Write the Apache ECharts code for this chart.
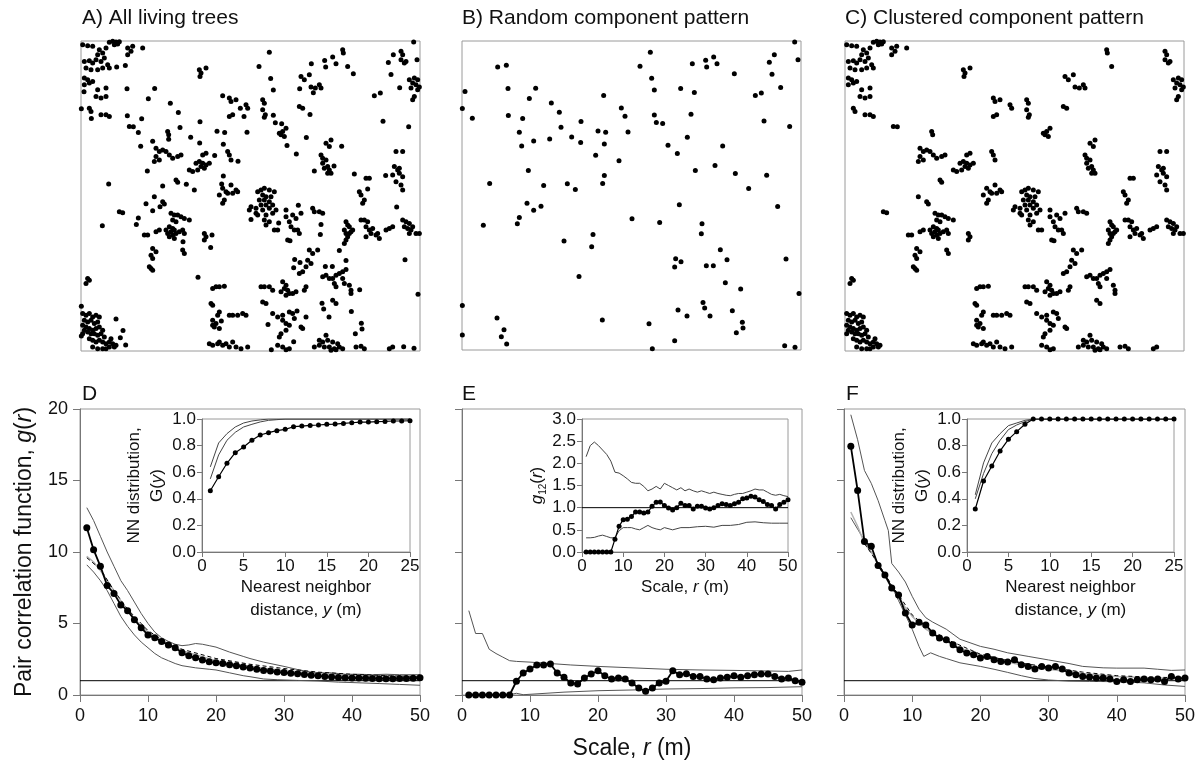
<!DOCTYPE html>
<html>
<head>
<meta charset="utf-8">
</head>
<body style="margin:0;background:#fff">
<div id="container" style="width:1200px;height:762px"></div>
<script type="text/javascript" src="https://cdn.jsdelivr.net/npm/echarts@6/dist/echarts.min.js"></script>
<script type="text/javascript">
var dom = document.getElementById("container");
var myChart = echarts.init(dom);

// stem maps, metres (x 0-101.7, y 0-92.8)
var randomPts = [
[99.8,92.5],[56.5,89.4],[10.7,85.0],[13.3,85.5],[53.4,85.2],[69.1,86.0],[73.1,87.0],[75.5,88.0],[76.5,86.0],[73.4,85.0],
[93.7,88.7],[92.2,86.4],[100.8,87.2],[81.7,83.0],[93.0,82.8],[56.9,81.6],[0.9,77.6],[13.8,78.5],[22.1,78.6],[20.2,75.5],
[42.5,76.4],[57.7,78.1],[65.6,78.5],[69.7,77.3],[95.6,78.8],[88.0,76.4],[89.8,77.2],[0.1,72.5],[3.1,69.6],[13.9,70.4],
[18.2,69.5],[26.8,74.2],[29.2,71.4],[47.8,72.7],[48.9,70.2],[57.7,70.6],[58.3,68.3],[60.2,68.0],[68.7,70.8],[90.6,68.8],
[98.3,67.1],[17.2,65.4],[21.5,62.8],[17.9,61.3],[26.3,63.4],[29.7,66.9],[32.9,64.0],[35.7,68.6],[35.6,62.3],[40.8,65.8],
[43.1,65.4],[42.7,61.9],[40.1,58.5],[49.8,65.5],[47.1,56.8],[61.8,61.5],[64.6,59.0],[67.6,63.9],[78.2,61.3],[75.9,55.4],
[70.0,53.9],[82.0,53.0],[91.4,52.5],[86.0,48.5],[94.7,43.1],[8.3,50.0],[19.9,53.9],[24.5,49.4],[31.6,49.9],[34.0,48.2],
[42.2,50.0],[42.7,52.4],[19.5,44.1],[21.5,42.0],[23.7,43.2],[17.2,39.8],[16.6,37.9],[6.4,37.5],[51.0,39.4],[59.3,38.3],
[65.2,43.6],[72.0,37.9],[71.8,34.9],[30.6,32.7],[39.3,34.7],[38.9,31.0],[77.5,30.1],[79.5,27.1],[64.1,27.4],[65.7,26.5],
[63.8,24.9],[73.3,25.3],[75.4,25.3],[97.2,27.3],[35.1,22.1],[79.0,20.2],[83.6,18.3],[101.1,17.0],[0.1,13.4],[72.3,14.3],
[72.8,12.6],[64.8,12.0],[67.5,10.2],[74.4,10.2],[81.1,11.8],[84.1,8.3],[84.3,6.6],[82.3,5.2],[10.5,9.6],[12.6,6.1],
[11.8,4.0],[13.4,1.8],[0.1,4.5],[42.1,9.0],[56.1,7.9],[63.8,2.8],[57.1,0.4],[96.8,1.3],[99.9,0.8]
];

var clusteredPts = [
[8.5,92.4],[9.5,92.7],[10.5,92.5],[11.5,92.6],[10.0,91.7],[11.0,91.9],[0.5,91.7],[2.0,91.4],[3.5,91.2],[5.5,90.2],
[6.5,89.2],[5.0,88.7],[7.5,90.7],[7.0,87.7],[6.0,86.7],[4.5,87.2],[8.0,85.7],[8.5,84.7],[1.0,86.7],[2.5,86.9],
[3.5,86.2],[1.5,84.7],[3.0,84.2],[5.0,84.2],[6.5,84.7],[1.0,81.7],[2.0,81.2],[2.5,80.2],[1.0,79.7],[3.5,80.7],
[5.0,78.2],[7.5,78.7],[4.5,76.2],[6.0,75.7],[7.5,76.2],[2.5,72.7],[3.0,71.7],[6.0,70.7],[7.5,70.7],[8.5,70.2],
[14.0,90.7],[15.5,91.2],[15.0,89.7],[14.0,88.7],[18.5,90.7],[14.5,67.2],[15.7,67.1],
[35.5,84.2],[36.0,83.2],[35.7,82.2],[37.5,84.7],[44.5,75.7],[45.0,74.7],[46.5,75.2],[49.5,73.7],[50.0,72.7],[44.5,70.2],
[45.5,70.7],[54.5,75.2],[55.0,74.2],[54.5,72.2],[55.3,70.7],[55.0,70.0],[66.0,82.2],[67.0,81.2],[68.5,82.7],[69.0,79.0],
[70.3,78.7],[71.5,79.7],[72.0,78.7],[65.5,73.2],[66.5,72.7],[78.5,90.2],[78.7,89.2],[80.0,85.2],[96.0,89.7],[96.5,88.7],
[96.0,87.2],[97.0,86.2],[97.5,86.7],[98.5,81.2],[100.0,81.7],[101.0,81.2],[99.5,80.2],[100.5,79.7],[101.5,79.0],[99.0,78.7],
[101.0,78.2],[100.0,76.2],[99.5,75.2],[61.5,66.7],[60.5,65.7],[60.0,64.7],[61.0,64.2],[59.5,65.2],[26.0,65.7],[26.3,64.7],
[22.5,60.7],[23.5,59.7],[24.5,60.2],[25.5,59.7],[22.5,58.2],[23.5,57.2],[22.0,56.7],[26.5,58.7],[27.5,57.7],[29.0,58.2],
[30.0,58.7],[36.5,58.7],[37.5,59.2],[34.5,56.2],[35.5,56.7],[36.5,56.2],[37.5,55.7],[36.0,55.2],[37.0,54.7],[35.0,54.2],
[33.5,53.7],[32.5,54.2],[38.5,56.2],[28.5,51.2],[29.0,50.5],[44.0,59.7],[44.5,58.7],[45.0,57.2],[72.0,58.7],[72.5,57.7],
[73.5,57.2],[72.5,56.2],[74.0,55.2],[74.5,54.2],[73.0,54.7],[74.0,53.2],[75.0,53.2],[74.5,61.2],[75.0,63.2],[73.5,62.2],
[94.5,59.7],[96.5,59.7],[94.0,55.2],[95.0,54.2],[95.5,53.2],[96.5,52.2],[94.5,50.7],[96.0,49.7],[96.5,48.2],[93.5,52.7],
[95.5,54.7],[85.5,51.7],[86.5,51.7],[83.5,47.7],[84.0,46.7],[85.0,45.2],[84.5,44.2],[22.0,46.2],[24.5,44.7],[25.0,44.0],
[11.5,41.7],[12.5,41.4],[45.0,49.7],[46.5,48.2],[47.0,47.7],[42.5,48.7],[43.5,47.7],[41.5,46.7],[43.0,45.2],[42.5,44.2],
[44.0,47.2],[45.5,47.2],
[53.0,47.7],[54.0,48.2],[55.0,48.7],[56.5,48.2],[58.0,47.7],[54.5,46.7],[55.5,46.2],[57.0,46.2],[53.5,45.2],[55.0,45.2],
[56.5,44.7],[54.0,43.7],[55.5,43.7],[57.5,43.7],[52.5,42.7],[54.5,42.2],[56.5,42.7],[58.5,42.2],[51.0,43.2],[50.5,42.2],
[52.5,41.2],[55.5,40.7],[57.5,41.2],[55.0,39.2],[56.5,38.7],[55.5,37.7],[58.0,36.2],[59.0,36.2],[61.5,42.2],[53.0,40.7],
[61.5,40.2],[63.5,40.7],[64.5,39.7],[66.0,41.2],[69.5,42.7],[70.0,41.7],[71.5,41.7],[72.5,41.2],[62.5,38.7],[63.0,37.2],
[64.0,36.2],[65.0,36.2],[65.5,35.2],[62.0,33.2],[62.7,33.0],
[27.0,41.2],[28.0,40.7],[29.0,40.7],[30.0,40.2],[31.0,39.7],[32.5,39.2],[27.5,39.2],[28.5,38.7],[26.5,37.2],[27.5,36.7],
[28.0,36.2],[27.0,35.7],[26.0,35.2],[27.5,34.7],[28.5,35.2],[29.5,35.7],[26.5,34.2],[28.0,33.7],[30.5,36.2],[31.0,35.2],
[25.5,36.2],[19.0,34.7],[20.0,34.7],[22.5,35.7],[23.5,36.2],[37.0,35.2],[37.5,34.2],[37.0,33.2],[21.5,30.7],[22.5,29.7],
[21.0,28.7],[21.5,27.7],[20.5,25.2],[21.5,24.2],[21.0,24.7],[30.5,30.2],[31.0,29.2],
[79.5,38.7],[80.0,37.7],[79.0,36.2],[79.5,35.2],[80.5,35.2],[81.0,35.7],[80.0,34.2],[79.5,33.2],[79.0,32.2],[81.5,36.2],
[80.5,37.2],[84.0,39.2],[85.0,39.2],[86.0,38.7],[85.5,37.2],[86.5,36.2],[87.5,36.7],[87.0,35.2],[85.5,34.2],[88.5,34.7],
[89.5,33.7],[89.0,35.2],[91.5,36.2],[92.5,36.7],[93.5,37.2],[96.5,39.2],[97.5,38.7],[98.5,38.2],[97.0,37.2],[98.0,36.7],
[99.0,36.2],[99.5,37.2],[100.5,35.2],[101.5,35.2],[98.5,35.2],[68.5,30.2],[69.5,29.2],[71.0,30.2],[68.0,27.2],[69.0,26.2],
[67.5,25.2],[66.5,23.7],[65.5,23.2],[72.5,22.2],[73.5,22.7],[74.5,21.7],[75.5,21.7],[76.5,22.7],[77.5,23.2],[78.5,23.7],
[79.5,24.4],[76.0,20.2],[76.5,19.2],[78.5,21.7],[80.5,19.7],[81.0,18.2],[81.0,17.2],[75.5,15.2],[76.5,14.2],[2.0,21.7],
[2.5,21.2],[1.5,20.2],[39.5,18.7],[40.5,19.2],[41.5,19.2],[43.0,19.4],[39.0,14.2],[39.5,13.7],[54.0,19.2],[55.0,19.2],
[56.5,19.2],[57.5,18.2],[60.5,20.7],[61.5,19.7],[61.0,18.7],[62.0,18.2],[62.5,17.2],[63.5,17.2],[64.5,17.7],[60.0,17.7],
[61.5,16.7],[67.5,19.2],[67.0,18.2],[54.5,14.7],[55.5,14.2],[41.5,11.7],[41.0,10.7],[39.5,9.2],[40.5,8.2],[40.0,7.2],
[41.5,6.7],[39.5,7.7],[44.5,10.7],[45.5,10.7],[47.0,10.7],[48.5,11.2],[49.5,10.7],[57.5,11.2],[59.0,10.2],[60.5,10.7],
[62.5,11.7],[63.5,11.2],[64.0,9.7],[60.5,9.2],[61.5,8.2],[62.5,7.7],[61.5,6.2],[60.0,5.2],[59.5,4.2],[66.0,7.2],
[66.5,6.7],[38.5,2.2],[39.5,1.7],[41.0,2.2],[41.5,2.7],[42.5,1.7],[43.5,2.2],[44.5,1.2],[46.5,1.2],[48.0,0.7],
[50.0,1.2],[45.5,2.7],[59.0,1.7],[60.5,1.2],[62.5,0.7],[61.5,0.4],
[73.5,4.7],[71.5,3.2],[72.5,2.7],[74.0,3.2],[75.5,2.7],[77.0,2.2],[71.5,1.7],[73.0,1.2],[74.5,1.2],[76.0,0.7],
[77.5,1.2],[78.5,0.7],[70.0,1.2],[75.0,0.2],[76.5,0.4],[82.5,1.2],[84.0,1.4],[85.0,0.7],[92.5,0.7],[93.5,1.2],
[0.5,11.2],[1.5,10.7],[2.5,11.2],[3.5,10.2],[4.5,10.7],[5.5,10.2],[1.0,9.2],[2.0,8.7],[3.0,9.2],[4.0,8.2],
[5.0,8.7],[0.5,7.7],[1.5,7.2],[2.5,6.7],[3.5,6.2],[4.5,6.7],[5.5,7.2],[2.0,5.7],[3.0,5.2],[4.0,5.2],
[5.0,4.7],[6.0,5.2],[7.0,4.2],[2.5,3.7],[3.5,3.2],[4.5,2.7],[5.5,3.2],[6.5,2.7],[7.5,2.2],[8.5,2.7],
[9.5,2.2],[10.5,1.7],[3.5,1.2],[5.0,0.7],[6.5,0.7],[7.5,0.7],[8.5,1.2],[10.0,1.2],[0.5,5.2],[1.0,6.2],
[6.5,6.2],[9.0,3.7]
];

var allPts = randomPts.concat(clusteredPts);

// scale r (m) for the pair correlation panels
var rVals = [1,2,3,4,5,6,7,8,9,10,11,12,13,14,15,16,17,18,19,20,21,22,23,24,25,
             26,27,28,29,30,31,32,33,34,35,36,37,38,39,40,41,42,43,44,45,46,47,48,49,50];
var yVals = [1,2,3,4,5,6,7,8,9,10,11,12,13,14,15,16,17,18,19,20,21,22,23,24,25];

// D: all living trees
var gD = [11.7,10.16,9.0,7.65,7.1,6.3,5.9,5.27,4.7,4.2,4.0,3.75,3.5,3.3,2.95,2.75,2.6,2.45,2.32,2.25,
          2.2,2.12,2.05,1.95,1.88,1.8,1.72,1.67,1.6,1.57,1.52,1.49,1.44,1.38,1.34,1.3,1.26,1.23,1.2,1.19,
          1.19,1.18,1.16,1.14,1.14,1.14,1.15,1.16,1.18,1.2];
var gDUpper = [[1,13.1],[2,12.2],[3,11.1],[4,10.0],[5,9.0],[6,8.0],[7,7.3],[8,6.5],[9,5.7],[10,5.0],[11,4.4],[12,4.0],
               [13,3.75],[14,3.55],[15,3.45],[16,3.5],[17,3.6],[18,3.55],[19,3.45],[20,3.35],[22,3.0],[24,2.7],[25,2.55],
               [27,2.3],[30,2.0],[32,1.78],[34,1.6],[35,1.55],[37,1.55],[39,1.45],[41,1.45],[43,1.42],[45,1.45],[47,1.42],[50,1.42]];
var gDLower = [[1,9.1],[2,8.6],[3,8.0],[4,7.3],[5,6.4],[6,5.5],[7,4.8],[8,4.2],[9,3.7],[10,3.3],[11,2.9],[12,2.6],
               [13,2.4],[14,2.2],[15,2.05],[17,1.9],[19,1.8],[20,1.75],[22,1.55],[24,1.35],[25,1.28],[27,1.12],[29,1.07],
               [32,1.02],[35,0.98],[38,0.9],[40,0.87],[44,0.8],[47,0.74],[50,0.68]];
var gDModel = [[1,9.7],[2,9.3],[3,8.7],[5,7.3],[7,5.9],[9,4.8],[10,4.4],[12,3.8],[15,3.1],[20,2.4],[25,2.0],
               [30,1.7],[35,1.5],[40,1.35],[45,1.25],[50,1.15]];
var gDMean = [[1,9.6],[3,8.8],[5,7.3],[7,6.0],[9,5.0],[10,4.5],[12,3.9],[15,3.2],[20,2.55],[25,2.15],[30,1.85],
              [35,1.6],[40,1.45],[45,1.35],[50,1.3]];
var nnD = [0.46,0.566,0.667,0.747,0.79,0.84,0.88,0.897,0.912,0.922,0.942,0.947,0.952,0.955,0.96,0.962,0.967,
           0.972,0.977,0.977,0.98,0.982,0.985,0.985,0.987];
var nnDEnv1 = [[1,0.64],[2,0.82],[3,0.89],[4,0.94],[5,0.97],[6,0.985],[7,0.993],[8,1],[25,1]];
var nnDEnv2 = [[1,0.55],[2,0.73],[3,0.84],[4,0.9],[5,0.94],[6,0.96],[7,0.978],[8,0.99],[9,0.995],[10,1],[25,1]];

// E: random component
var gE = [0,0,0,0,0,0,0,0.96,1.54,1.82,2.1,2.1,2.17,1.54,1.24,0.84,0.77,1.19,1.47,1.7,1.35,1.12,1.19,1.12,0.84,
          0.49,0.26,0.49,0.84,0.96,1.7,1.42,1.49,1.3,1.3,1.12,1.07,1.19,1.24,1.35,1.24,1.35,1.42,1.47,1.47,1.3,
          1.12,1.19,1.0,0.89];
var gEUpper = [[1,5.9],[2,4.3],[3,4.3],[4,3.2],[5,2.9],[6,2.65],[7,2.4],[8,2.35],[10,2.3],[13,2.2],[16,2.1],[20,2.0],
               [25,1.9],[30,1.8],[35,1.75],[40,1.72],[45,1.68],[48,1.65],[50,1.75]];
var gELower = [[1,0.02],[7,0.02],[8,0.12],[9,0.02],[10,0.05],[15,0.2],[20,0.3],[25,0.35],[30,0.42],[35,0.45],
               [40,0.5],[45,0.52],[50,0.58]];
var g12 = [0,0,0,0,0,0,0,0.29,0.58,0.73,0.74,0.8,0.9,0.9,0.88,0.9,1.03,1.12,1.13,1.05,0.99,0.95,1.0,1.1,1.05,
           1.05,0.97,1.03,1.03,0.99,0.97,1.0,1.05,1.09,1.07,1.05,1.09,1.12,1.2,1.22,1.26,1.24,1.18,1.14,1.07,1.05,
           0.97,1.07,1.12,1.18];
var g12Upper = [[1,2.15],[2,2.4],[3,2.48],[4,2.4],[5,2.3],[6,2.2],[7,2.05],[8,1.8],[9,1.78],[10,1.72],[11,1.65],
                [12,1.57],[13,1.55],[14,1.55],[15,1.48],[16,1.38],[17,1.42],[18,1.48],[19,1.42],[20,1.55],[21,1.5],
                [22,1.45],[23,1.4],[24,1.45],[25,1.38],[26,1.42],[27,1.38],[28,1.35],[29,1.38],[30,1.35],[31,1.32],
                [32,1.35],[33,1.32],[34,1.3],[35,1.28],[36,1.27],[37,1.3],[38,1.32],[39,1.32],[40,1.35],[41,1.38],
                [42,1.42],[43,1.4],[44,1.4],[45,1.35],[46,1.3],[47,1.28],[48,1.3],[49,1.27],[50,1.25]];
var g12Lower = [[1,0.32],[2,0.32],[3,0.33],[4,0.36],[5,0.38],[6,0.35],[7,0.32],[8,0.32],[9,0.48],[10,0.55],
                [11,0.55],[12,0.55],[13,0.52],[14,0.5],[15,0.55],[16,0.6],[17,0.55],[18,0.52],[19,0.5],[20,0.55],
                [22,0.5],[24,0.55],[26,0.55],[28,0.57],[30,0.58],[32,0.56],[34,0.6],[36,0.6],[38,0.62],[40,0.67],
                [42,0.68],[44,0.66],[46,0.65],[48,0.65],[50,0.65]];

// F: clustered component
var gF = [17.4,14.3,10.74,10.4,9.06,8.4,7.48,7.0,5.73,4.9,5.08,4.9,4.33,3.99,3.87,3.52,3.17,2.94,2.82,2.59,
          2.7,2.47,2.35,2.3,2.47,2.12,2.0,1.82,2.0,1.89,2.0,1.82,1.54,1.42,1.3,1.26,1.19,1.19,1.12,0.95,
          1.07,0.95,1.07,1.12,1.07,1.12,0.95,1.3,1.12,1.19];
var gFUpper = [[1,19.6],[2,17.85],[3,15.7],[4,14.8],[5,13.6],[6,12.2],[6.5,11.5],[7,9.2],[8,8.6],[9,7.9],[10,6.9],
               [11,6.0],[12,5.4],[13,5.1],[15,4.6],[17,3.9],[20,3.4],[22,3.2],[24,2.95],[27,2.7],[30,2.45],[33,2.2],
               [35,2.0],[38,1.9],[40,1.88],[44,1.88],[46,1.8],[48,1.72],[50,1.75]];
var gFLower = [[1,12.4],[2,11.6],[3,10.8],[4,10.0],[5,9.2],[6,8.4],[7,7.6],[8,6.6],[9,5.6],[10,4.6],[11,3.4],
               [11.7,2.7],[12.7,2.95],[14,2.7],[15,2.55],[17,2.25],[20,2.0],[22,1.8],[24,1.58],[26,1.35],[28,1.15],
               [30,1.05],[33,0.97],[36,0.95],[40,0.93],[44,0.85],[47,0.7],[50,0.6]];
var gFModel = [[1,12.8],[2,11.8],[3,10.6],[4,10.0],[5,9.1],[6,8.3],[7,7.5],[8,6.8],[9,6.1],[10,5.5],[12,4.6],
               [14,4.0],[16,3.5],[18,3.1],[20,2.8],[25,2.2],[30,1.8],[35,1.5],[40,1.3],[45,1.2],[50,1.15]];
var gFMean = [[3,10.6],[5,9.2],[7,7.7],[9,6.3],[10,5.6],[12,4.8],[15,3.9],[20,2.85],[25,2.3],[30,1.95],[35,1.6],
              [40,1.35],[45,1.25],[50,1.2]];
var nnF = [0.323,0.534,0.647,0.76,0.847,0.905,0.96,1,1,1,1,1,1,1,1,1,1,1,1,1,1,1,1,1,1];
var nnFEnv1 = [[1,0.43],[2,0.67],[3,0.82],[4,0.89],[5,0.95],[6,0.97],[7,0.99],[8,1],[25,1]];
var nnFEnv2 = [[1,0.4],[2,0.59],[3,0.74],[4,0.84],[5,0.92],[6,0.955],[7,0.98],[8,1],[25,1]];

function pairs(xs, ys) {
    var out = [];
    for (var i = 0; i < ys.length; i++) out.push([xs[i], ys[i]]);
    return out;
}

var FONT = 'Liberation Sans, Arial, Helvetica, sans-serif';
var TXT = '#111';

var grids = [
    {left: 81,  top: 41,  width: 339, height: 310},
    {left: 462, top: 41,  width: 339, height: 309},
    {left: 845, top: 41,  width: 339, height: 310},
    {left: 80,  top: 409, width: 340, height: 286},
    {left: 462, top: 409, width: 340, height: 286},
    {left: 844, top: 409, width: 341, height: 286},
    {left: 202, top: 419, width: 208, height: 133},
    {left: 582, top: 419, width: 206, height: 133},
    {left: 967, top: 419, width: 207, height: 133}
];
grids.forEach(function (g) {
    g.show = true;
    g.borderColor = '#9a9a9a';
    g.borderWidth = 1;
    g.backgroundColor = '#fff';
});

function mapAxis(i, isX) {
    return {gridIndex: i, type: 'value', min: 0, max: isX ? 101.7 : 92.8, show: false};
}

function numAxis(i, min, max, interval, showLabel, fs, dec) {
    return {
        gridIndex: i, type: 'value', min: min, max: max, interval: interval,
        axisLine: {show: true, onZero: false, lineStyle: {color: '#777', width: 1}},
        axisTick: {show: true, length: fs > 17 ? 7 : 5, lineStyle: {color: '#777'}},
        splitLine: {show: false},
        axisLabel: {
            show: showLabel, fontSize: fs, color: TXT, fontFamily: FONT, margin: fs > 17 ? 12 : 6,
            formatter: function (v) { return dec ? v.toFixed(1) : String(v); }
        }
    };
}

var italic = {fontStyle: 'italic', fontFamily: FONT};

var xAxes = [mapAxis(0, true), mapAxis(1, true), mapAxis(2, true),
    numAxis(3, 0, 50, 10, true, 18, false),
    numAxis(4, 0, 50, 10, true, 18, false),
    numAxis(5, 0, 50, 10, true, 18, false),
    numAxis(6, 0, 25, 5, true, 17, false),
    numAxis(7, 0, 50, 10, true, 17, false),
    numAxis(8, 0, 25, 5, true, 17, false)];
var yAxes = [mapAxis(0, false), mapAxis(1, false), mapAxis(2, false),
    numAxis(3, 0, 20, 5, true, 18, false),
    numAxis(4, 0, 20, 5, false, 18, false),
    numAxis(5, 0, 20, 5, false, 18, false),
    numAxis(6, 0, 1, 0.2, true, 17, true),
    numAxis(7, 0, 3, 0.5, true, 17, true),
    numAxis(8, 0, 1, 0.2, true, 17, true)];

// axis titles
yAxes[3].name = 'Pair correlation function, {i|g}({i|r})';
yAxes[3].nameLocation = 'middle';
yAxes[3].nameGap = 44;
yAxes[3].nameTextStyle = {fontSize: 23, color: TXT, fontFamily: FONT, rich: {i: Object.assign({fontSize: 23, color: TXT}, italic)}};

xAxes[4].name = 'Scale, {i|r} (m)';
xAxes[4].nameLocation = 'middle';
xAxes[4].nameGap = 42;
xAxes[4].nameTextStyle = {fontSize: 23, color: TXT, fontFamily: FONT, rich: {i: Object.assign({fontSize: 23, color: TXT}, italic)}};

var insetName = {fontSize: 17, color: TXT, fontFamily: FONT, lineHeight: 23,
    rich: {i: Object.assign({fontSize: 17, color: TXT, lineHeight: 23}, italic),
           s: {fontSize: 10, color: TXT, fontFamily: FONT, lineHeight: 23, verticalAlign: 'bottom'}}};

[6, 8].forEach(function (k) {
    xAxes[k].name = 'Nearest neighbor\ndistance, {i|y} (m)';
    xAxes[k].nameLocation = 'middle';
    xAxes[k].nameGap = 22;
    xAxes[k].nameTextStyle = insetName;
    yAxes[k].name = 'NN distribution,\nG({i|y})';
    yAxes[k].nameLocation = 'middle';
    yAxes[k].nameGap = 30;
    yAxes[k].nameTextStyle = insetName;
});
xAxes[7].name = 'Scale, {i|r} (m)';
xAxes[7].nameLocation = 'middle';
xAxes[7].nameGap = 22;
xAxes[7].nameTextStyle = insetName;
yAxes[7].name = '{i|g}{s|12}({i|r})';
yAxes[7].nameLocation = 'middle';
yAxes[7].nameGap = 33;
yAxes[7].nameTextStyle = insetName;

function dots(i, data) {
    return {type: 'scatter', xAxisIndex: i, yAxisIndex: i, data: data, symbolSize: 5,
            itemStyle: {color: '#000', opacity: 1}, silent: true, animation: false};
}
function line(i, data, color, width, dash, z) {
    return {type: 'line', xAxisIndex: i, yAxisIndex: i, data: data, showSymbol: false, symbol: 'none',
            lineStyle: {color: color, width: width, type: dash ? [4, 3] : 'solid'}, silent: true,
            animation: false, z: z || 2};
}
function obs(i, data, size, width) {
    return {type: 'line', xAxisIndex: i, yAxisIndex: i, data: data, symbol: 'circle', symbolSize: size,
            showSymbol: true, lineStyle: {color: '#000', width: width}, itemStyle: {color: '#000'},
            silent: true, animation: false, z: 5};
}
function unity(i, xmax) {
    return line(i, [[0, 1], [xmax, 1]], '#000', 1, false, 1);
}

var series = [
    dots(0, allPts), dots(1, randomPts), dots(2, clusteredPts),

    unity(3, 50),
    line(3, gDUpper, '#555', 1),
    line(3, gDLower, '#555', 1),
    line(3, gDModel, '#b0b0b0', 1.5),
    line(3, gDMean, '#000', 1, true, 3),
    obs(3, pairs(rVals, gD), 7, 1.8),

    unity(4, 50),
    line(4, gEUpper, '#555', 1),
    line(4, gELower, '#555', 1),
    obs(4, pairs(rVals, gE), 7, 1.8),

    unity(5, 50),
    line(5, gFUpper, '#555', 1),
    line(5, gFLower, '#555', 1),
    line(5, gFModel, '#b0b0b0', 1.5),
    line(5, gFMean, '#000', 1, true, 3),
    obs(5, pairs(rVals, gF), 7, 1.8),

    line(6, nnDEnv1, '#444', 1),
    line(6, nnDEnv2, '#444', 1),
    obs(6, pairs(yVals, nnD), 5, 1.2),

    unity(7, 50),
    line(7, g12Upper, '#444', 1),
    line(7, g12Lower, '#444', 1),
    obs(7, pairs(rVals, g12), 5, 1.2),

    line(8, nnFEnv1, '#444', 1),
    line(8, nnFEnv2, '#444', 1),
    obs(8, pairs(yVals, nnF), 5, 1.2)
];

function label(text, x, y) {
    return {type: 'text', left: x, top: y,
            style: {text: text, fontSize: 21, fill: TXT, fontFamily: FONT}};
}

option = {
    backgroundColor: '#fff',
    animation: false,
    grid: grids,
    xAxis: xAxes,
    yAxis: yAxes,
    series: series,
    graphic: [
        label('A) All living trees', 82, 8),
        label('B) Random component pattern', 462, 8),
        label('C) Clustered component pattern', 845, 8),
        label('D', 82, 384),
        label('E', 462, 384),
        label('F', 846, 384)
    ]
};

myChart.setOption(option);
</script>
</body>
</html>
